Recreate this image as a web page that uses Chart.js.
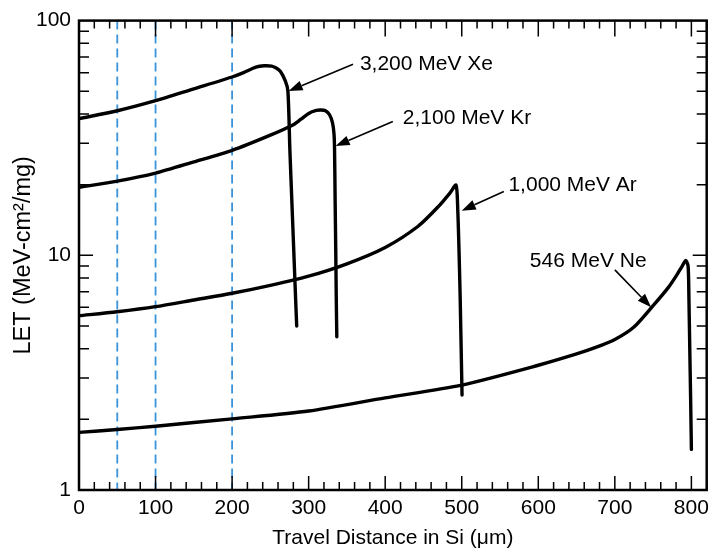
<!DOCTYPE html>
<html>
<head>
<meta charset="utf-8">
<script src="https://cdn.jsdelivr.net/npm/chart.js@4.4.1/dist/chart.umd.min.js"></script>
<style>
    html, body { margin: 0; padding: 0; background: #fff; }
    #wrap { width: 715px; height: 557px; }
</style>
</head>
<body>
<div id="wrap"><canvas id="letChart" width="715" height="557"></canvas></div>
<script>
// data (distance in um, LET in MeV-cm2/mg)
const xeDist = [0, 50, 100, 150, 200, 215, 231, 242, 251.7, 257, 263, 269.5, 272.9, 275.5, 278, 280.5, 283, 284.4];
const xeLet = [38.2, 41.3, 45.6, 51.2, 57.5, 60, 63.3, 64.2, 64, 63, 60.9, 55.3, 50.2, 28, 17.2, 10.6, 6.5, 5.0];

const krDist = [0, 50, 100, 150, 200, 250, 280, 290, 300, 310, 316, 322, 327.3, 331.2, 333.1, 333.8, 334.6, 335.4, 336.1, 336.8];
const krLet = [19.5, 20.7, 22.4, 25, 28, 32.5, 36, 38, 40.2, 41.4, 41.6, 41.3, 39.7, 36.7, 33.0, 28.8, 17.2, 10.6, 6.5, 4.5];

const arDist = [0, 50, 100, 150, 200, 250, 300, 350, 400, 443, 470, 485, 492.6, 494.8, 496.4, 498, 500.4];
const arLet = [5.53, 5.75, 6.04, 6.45, 6.89, 7.45, 8.15, 9.2, 10.8, 13.3, 16.2, 18.5, 19.9, 15.6, 10.6, 6.5, 2.54];

const neDist = [0, 50, 100, 200, 300, 400, 500, 600, 650, 675, 700, 725, 750, 770, 780, 788, 792.6, 795.7, 796.8, 797.9, 799, 800];
const neLet = [1.76, 1.81, 1.87, 2.01, 2.17, 2.47, 2.8, 3.4, 3.8, 4.05, 4.38, 4.95, 6.1, 7.3, 8.15, 9.0, 9.5, 9.0, 6.5, 4.0, 2.47, 1.49];

const xTickLabels = [0, 100, 200, 300, 400, 500, 600, 700, 800];
const yTickLabels = [1, 10, 100];
const dashedDist = [50, 100, 200];

const ionNames = ["3,200 MeV Xe", "2,100 MeV Kr", "1,000 MeV Ar", "546 MeV Ne"];

// annotation placement (data coordinates)
const notes = [
    { text: ionNames[0], at: [367, 65.2], tail: [358, 65.2], tip: [273.8, 50.1] },
    { text: ionNames[1], at: [423, 38.5], tail: [410, 37.2], tip: [335.2, 29.2] },
    { text: ionNames[2], at: [561, 19.8], tail: [555, 18.7], tip: [500, 15.5] },
    { text: ionNames[3], at: [589, 9.46], tail: [700, 8.67], tip: [747.4, 6.0] },
];

const fontFamily = "'Liberation Sans', Arial, Helvetica, sans-serif";

function toPoints(xs, ys) {
    return xs.map((x, i) => ({ x: x, y: ys[i] }));
}

function makeSet(xs, ys) {
    return {
        data: toPoints(xs, ys),
        borderColor: "#000",
        borderWidth: 3.4,
        pointRadius: 0,
        fill: false,
        tension: 0.25,
        borderJoinStyle: "round",
        borderCapStyle: "round",
    };
}

// blue dashed verticals
const dashPlugin = {
    id: "dashLines",
    beforeDatasetsDraw(chart) {
        const { ctx, chartArea, scales } = chart;
        ctx.save();
        ctx.strokeStyle = "#3b93da";
        ctx.lineWidth = 1.8;
        ctx.setLineDash([9, 5]);
        for (let d of dashedDist) {
            const px = scales.x.getPixelForValue(d);
            ctx.beginPath();
            ctx.moveTo(px, chartArea.top);
            ctx.lineTo(px, chartArea.bottom);
            ctx.stroke();
        }
        ctx.restore();
    },
};

// frame and inward ticks
const framePlugin = {
    id: "frameTicks",
    afterDatasetsDraw(chart) {
        const { ctx, chartArea, scales } = chart;
        const { left, right, top, bottom } = chartArea;
        ctx.save();
        ctx.strokeStyle = "#000";
        ctx.lineWidth = 1.5;
        ctx.beginPath();
        for (let v = 0; v <= 820; v += 20) {
            const px = scales.x.getPixelForValue(v);
            const major = v % 100 === 0;
            ctx.moveTo(px, bottom);
            ctx.lineTo(px, bottom - (major ? 14 : 8));
            ctx.moveTo(px, top);
            ctx.lineTo(px, top + (major ? 16 : 8));
        }
        for (let dec of [1, 10]) {
            for (let m = 1; m <= 10; m++) {
                const v = dec * m;
                if (v <= 1 || v >= 100) continue;
                const py = scales.y.getPixelForValue(v);
                const len = m === 10 ? 14 : 10;
                ctx.moveTo(left, py);
                ctx.lineTo(left + len, py);
                ctx.moveTo(right, py);
                ctx.lineTo(right - len, py);
            }
        }
        ctx.stroke();
        ctx.lineWidth = 2.5;
        ctx.strokeRect(left, top, right - left, bottom - top);
        ctx.restore();
    },
};

// arrow labels
const notePlugin = {
    id: "ionNotes",
    afterDraw(chart) {
        const { ctx, scales } = chart;
        ctx.save();
        ctx.fillStyle = "#000";
        ctx.strokeStyle = "#000";
        ctx.font = "21px " + fontFamily;
        ctx.textAlign = "left";
        ctx.textBaseline = "middle";
        for (let n of notes) {
            const tx = scales.x.getPixelForValue(n.at[0]);
            const ty = scales.y.getPixelForValue(n.at[1]);
            ctx.fillText(n.text, tx, ty);

            const x0 = scales.x.getPixelForValue(n.tail[0]);
            const y0 = scales.y.getPixelForValue(n.tail[1]);
            const x1 = scales.x.getPixelForValue(n.tip[0]);
            const y1 = scales.y.getPixelForValue(n.tip[1]);
            const ang = Math.atan2(y1 - y0, x1 - x0);
            const headLen = 14;
            const headHalf = 5;
            const bx = x1 - headLen * Math.cos(ang);
            const by = y1 - headLen * Math.sin(ang);
            ctx.lineWidth = 1.6;
            ctx.beginPath();
            ctx.moveTo(x0, y0);
            ctx.lineTo(bx, by);
            ctx.stroke();
            ctx.beginPath();
            ctx.moveTo(x1, y1);
            ctx.lineTo(bx + headHalf * Math.sin(ang), by - headHalf * Math.cos(ang));
            ctx.lineTo(bx - headHalf * Math.sin(ang), by + headHalf * Math.cos(ang));
            ctx.closePath();
            ctx.fill();
        }
        ctx.restore();
    },
};

const letChart = new Chart(document.getElementById("letChart"), {
    type: "line",
    data: {
        datasets: [
            makeSet(xeDist, xeLet),
            makeSet(krDist, krLet),
            makeSet(arDist, arLet),
            makeSet(neDist, neLet),
        ],
    },
    options: {
        responsive: false,
        animation: false,
        devicePixelRatio: 1,
        layout: { padding: { left: 0, right: 4, top: 16, bottom: 0 } },
        plugins: {
            legend: { display: false },
            tooltip: { enabled: false },
        },
        scales: {
            x: {
                type: "linear",
                min: 0,
                max: 820,
                grid: { display: false, drawTicks: false },
                border: { display: false },
                afterBuildTicks(scale) {
                    scale.ticks = xTickLabels.map((v) => ({ value: v }));
                },
                afterFit(scale) {
                    scale.height = 67;
                },
                ticks: {
                    color: "#000",
                    padding: 6,
                    maxRotation: 0,
                    font: { family: fontFamily, size: 21 },
                },
                title: {
                    display: true,
                    text: "Travel Distance in Si (\u03bcm)",
                    color: "#000",
                    padding: { top: 0, bottom: 6 },
                    font: { family: fontFamily, size: 21 },
                },
            },
            y: {
                type: "logarithmic",
                min: 1,
                max: 100,
                grid: { display: false, drawTicks: false },
                border: { display: false },
                afterBuildTicks(scale) {
                    scale.ticks = yTickLabels.map((v) => ({ value: v }));
                },
                afterFit(scale) {
                    scale.width = 79;
                },
                ticks: {
                    color: "#000",
                    padding: 8,
                    font: { family: fontFamily, size: 21 },
                    callback: (v) => String(v),
                },
                title: {
                    display: true,
                    text: "LET (MeV-cm\u00b2/mg)",
                    color: "#000",
                    padding: { top: 9, bottom: 0 },
                    font: { family: fontFamily, size: 23.5 },
                },
            },
        },
    },
    plugins: [dashPlugin, framePlugin, notePlugin],
});
</script>
</body>
</html>
